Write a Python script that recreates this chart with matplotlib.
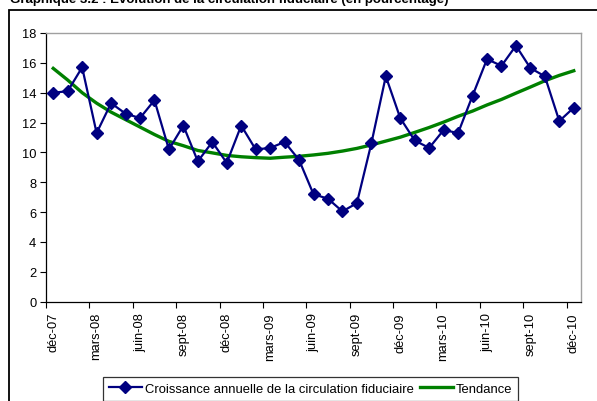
import matplotlib.pyplot as plt
import matplotlib.patches as mpatches
import numpy as np

plt.rcParams.update({'font.family': ['Liberation Sans', 'DejaVu Sans'], 'font.size': 9})

# Monthly data, déc-07 .. déc-10
months = ['déc-07', 'janv-08', 'févr-08', 'mars-08', 'avr-08', 'mai-08', 'juin-08', 'juil-08', 'août-08',
          'sept-08', 'oct-08', 'nov-08', 'déc-08', 'janv-09', 'févr-09', 'mars-09', 'avr-09', 'mai-09',
          'juin-09', 'juil-09', 'août-09', 'sept-09', 'oct-09', 'nov-09', 'déc-09', 'janv-10', 'févr-10',
          'mars-10', 'avr-10', 'mai-10', 'juin-10', 'juil-10', 'août-10', 'sept-10', 'oct-10', 'nov-10',
          'déc-10']

croissance = [14.0, 14.1, 15.7, 11.3, 13.3, 12.6, 12.3, 13.5, 10.2, 11.8, 9.4, 10.7, 9.3,
              11.8, 10.2, 10.3, 10.7, 9.5, 7.2, 6.9, 6.05, 6.6, 10.6, 15.1, 12.3, 10.8,
              10.3, 11.5, 11.3, 13.8, 16.25, 15.8, 17.15, 15.65, 15.1, 12.1, 13.0]

tendance = [15.63, 14.85, 14.0, 13.3, 12.7, 12.2, 11.7, 11.2, 10.74, 10.45, 10.13, 9.97, 9.8,
            9.71, 9.65, 9.61, 9.68, 9.74, 9.83, 9.94, 10.09, 10.27, 10.5, 10.76, 11.02, 11.34,
            11.67, 12.03, 12.42, 12.77, 13.18, 13.55, 13.97, 14.38, 14.8, 15.16, 15.47]

W, H = 597, 402
fig = plt.figure(figsize=(W / 100, H / 100), dpi=100)

# outer chart frame (extends past right/bottom edges)
frame = mpatches.Rectangle((9 / W, -0.2), 1.2, 1.2 - 11 / H, transform=fig.transFigure,
                           fill=False, edgecolor='black', linewidth=1.3, clip_on=False)
fig.patches.append(frame)

# title is cut by the top edge, as in the source
fig.text(10 / W, 1 - 3.5 / H, 'Graphique 3.2 : Evolution de la circulation fiduciaire (en pourcentage)',
         fontsize=9.5, fontweight='bold', va='baseline', ha='left')

ax = fig.add_axes([46 / W, 1 - 302.7 / H, 535 / W, 268.7 / H])

x = np.arange(len(months))
ax.plot(x, croissance, color='#000080', linewidth=1.6, marker='D', markersize=6.2,
        markerfacecolor='#000080', markeredgecolor='#000080',
        label='Croissance annuelle de la circulation fiduciaire', zorder=3)
ax.plot(x, tendance, color='#008000', linewidth=2.4, label='Tendance', zorder=2)

ax.set_xlim(-0.5, len(months) - 0.5)
ax.set_ylim(0, 18)
ax.set_yticks(np.arange(0, 19, 2))

# tick marks on category boundaries, labels on every third category
ax.set_xticks(np.arange(-0.5, len(months), 3))
ax.set_xticklabels([])
ax.set_xticks(x[::3], minor=True)
ax.set_xticklabels(months[::3], minor=True, rotation=90)
ax.tick_params(axis='x', which='major', direction='out', length=4, width=0.8, color='black')
ax.tick_params(axis='x', which='minor', length=0, pad=7.5, labelsize=9.3)
ax.tick_params(axis='y', direction='out', length=4, width=0.8, pad=3, labelsize=9.3)

for side in ('top', 'right'):
    ax.spines[side].set_color('#a0a0a0')
    ax.spines[side].set_linewidth(1.0)
for side in ('left', 'bottom'):
    ax.spines[side].set_color('black')
    ax.spines[side].set_linewidth(0.9)

leg = ax.legend(loc='upper left', bbox_to_anchor=(103 / W, 1 - 378 / H), bbox_transform=fig.transFigure,
                ncol=2, frameon=True, fancybox=False, borderaxespad=0, handlelength=2.5,
                columnspacing=0.5, handletextpad=0.25, borderpad=0.45, fontsize=9.4)
leg.get_frame().set_edgecolor('black')
leg.get_frame().set_linewidth(0.9)

fig.savefig('out.png', dpi=100)
